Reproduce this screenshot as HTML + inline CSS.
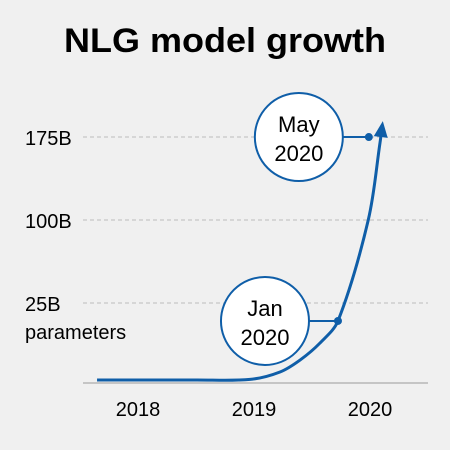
<!DOCTYPE html>
<html><head><meta charset="utf-8"><style>
html,body{margin:0;padding:0;background:#f0f0f0;}
svg{display:block;font-family:"Liberation Sans","DejaVu Sans",sans-serif;}
</style></head><body>
<svg id="chart" width="450" height="450" viewBox="0 0 450 450">
<rect x="0" y="0" width="450" height="450" fill="#f0f0f0"/>
<text x="225" y="52" text-anchor="middle" font-size="34" font-weight="bold" fill="#000" textLength="322" lengthAdjust="spacingAndGlyphs">NLG model growth</text>
<g id="grid"></g><g id="axes"></g><g id="series"></g><g id="notes"></g>
</svg>
<script>
const yTickValues=[175,100,25];
const yTickLabels=["175B","100B","25B"];
const xTickValues=[2018,2019,2020];
const xTickLabels=["2018","2019","2020"];
const curveX=[2017.647,2018.5,2018.966,2019.224,2019.397,2019.569,2019.724,2019.985,2020.086,2020.106];
const curveY=[-44.5,-44.5,-44,-37.3,-26.5,-11.1,8.8,100,169.6,185.8];
const noteLabels=[["May","2020"],["Jan","2020"]];
const noteX=[2019.99,2019.724];
const noteY=[175,8.8];
const NS="http://www.w3.org/2000/svg";
function X(v){return 138+(v-2018)*116;}
function Y(v){return 330.7-v*1.1067;}
function mk(tag,attrs,parent){const e=document.createElementNS(NS,tag);for(const k in attrs)e.setAttribute(k,attrs[k]);parent.appendChild(e);return e;}
const grid=document.getElementById('grid'),axes=document.getElementById('axes'),series=document.getElementById('series'),notes=document.getElementById('notes');
yTickValues.forEach((v,i)=>{
 const l=mk('line',{x1:83,x2:428,y1:Y(v),y2:Y(v),stroke:'#bdbdbd','stroke-width':1,'stroke-dasharray':'4,3'},grid);
 
 
 const t=mk('text',{x:25,y:Y(v)+8,'font-size':20,fill:'#000'},axes);
 t.textContent=yTickLabels[i];
 
 
});
const ya=mk('text',{x:25,y:339,'font-size':20,fill:'#000'},axes);
ya.textContent='parameters';


const ax=mk('line',{x1:83,x2:428,y1:383,y2:383,stroke:'#9a9a9a','stroke-width':1},axes);


xTickValues.forEach((v,i)=>{
 const t=mk('text',{x:X(v),y:416,'font-size':20,'text-anchor':'middle',fill:'#000'},axes);
 t.textContent=xTickLabels[i];
 
 
});
const P=curveX.map((x,i)=>[X(x),Y(curveY[i])]);
const n=P.length;
const D=[];for(let i=0;i<n-1;i++)D.push(Math.hypot(P[i+1][0]-P[i][0],P[i+1][1]-P[i][1]));
const T=P.map((p,i)=>{
 if(i===0)return [(P[1][0]-P[0][0])/D[0],(P[1][1]-P[0][1])/D[0]];
 if(i===n-1)return [(P[i][0]-P[i-1][0])/D[i-1],(P[i][1]-P[i-1][1])/D[i-1]];
 const s=D[i-1]+D[i];return [(P[i+1][0]-P[i-1][0])/s,(P[i+1][1]-P[i-1][1])/s];
});
let d='M'+P[0][0]+','+P[0][1];
for(let i=0;i<n-1;i++){
 const k=D[i]/3;
 const c1=[P[i][0]+T[i][0]*k,P[i][1]+T[i][1]*k];
 const c2=[P[i+1][0]-T[i+1][0]*k,P[i+1][1]-T[i+1][1]*k];
 d+=' C'+c1+' '+c2+' '+P[i+1];
}
const path=mk('path',{d:d,fill:'none',stroke:'#0f5ea8','stroke-width':3,'stroke-linejoin':'round'},series);


const tip=P[n-1],pv=P[n-2];
const ang=Math.atan2(tip[1]-pv[1],tip[0]-pv[0]);
const ah=mk('polygon',{points:[[tip[0]+4*Math.cos(ang),tip[1]+4*Math.sin(ang)],[tip[0]-12*Math.cos(ang)+7*Math.sin(ang),tip[1]-12*Math.sin(ang)-7*Math.cos(ang)],[tip[0]-12*Math.cos(ang)-7*Math.sin(ang),tip[1]-12*Math.sin(ang)+7*Math.cos(ang)]].map(p=>p.join(',')).join(' '),fill:'#0f5ea8'},series);


noteLabels.forEach((lab,i)=>{
 const px=X(noteX[i]),py=Y(noteY[i]);
 const cx=i===0?px-70:px-73,r=44;
 const ln=mk('line',{x1:cx+r,x2:px,y1:py,y2:py,stroke:'#0f5ea8','stroke-width':2},notes);
 
 
 const dot=mk('circle',{cx:px,cy:py,r:4,fill:'#0f5ea8'},notes);
 
 
 const c=mk('circle',{cx:cx,cy:py,r:r,fill:'#fff',stroke:'#0f5ea8','stroke-width':2},notes);
 
 
 lab.forEach((s,j)=>{
  const t=mk('text',{x:cx,y:py-5+j*29,'font-size':22,'text-anchor':'middle',fill:'#000'},notes);
  t.textContent=s;
  
  
 });
});
</script>
</body></html>
